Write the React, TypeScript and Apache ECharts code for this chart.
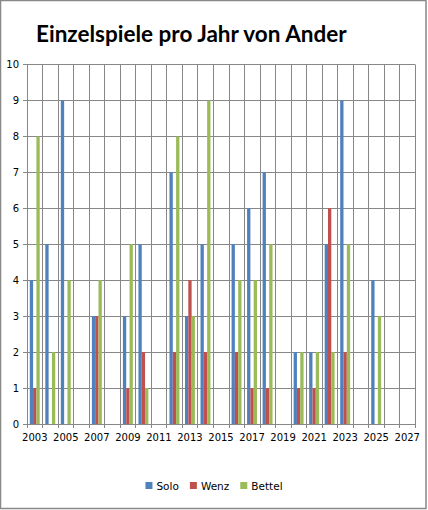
import React, { useEffect, useRef } from "react";
import * as echarts from "echarts";

const years = [
  "2003", "2004", "2005", "2006", "2007", "2008", "2009", "2010", "2011", "2012",
  "2013", "2014", "2015", "2016", "2017", "2018", "2019", "2020", "2021", "2022",
  "2023", "2024", "2025", "2026", "2027",
];
const solo = [4, 5, 9, 0, 3, 0, 3, 5, 0, 7, 3, 5, 0, 5, 6, 7, 0, 2, 2, 5, 9, 0, 4, 0, 0];
const wenz = [1, 0, 0, 0, 3, 0, 1, 2, 0, 2, 4, 2, 0, 2, 1, 1, 0, 1, 1, 6, 2, 0, 0, 0, 0];
const bettel = [8, 2, 4, 0, 4, 0, 5, 1, 0, 8, 3, 9, 0, 4, 4, 5, 0, 2, 2, 2, 5, 0, 3, 0, 0];
const seriesNames = ["Solo", "Wenz", "Bettel"];
const colors = ["#4F81BD", "#C0504D", "#9BBB59"];
const titleText = "Einzelspiele pro Jahr von Ander";

export default function App() {
  const ref = useRef<HTMLDivElement>(null);
  useEffect(() => {
    document.body.style.margin = "0";
    const chart = echarts.init(ref.current!, null, { renderer: "svg" });
    const font = "DejaVu Sans";
    const gridColor = "#878787";
    const data = [solo, wenz, bettel];
    chart.setOption({
      animation: false,
      backgroundColor: "#ffffff",
      title: {
        text: titleText,
        left: 31,
        top: 17,
        textStyle: { fontFamily: "Lato", fontWeight: "bold", fontSize: 22.5, color: "#000" },
      },
      legend: {
        data: seriesNames,
        bottom: 14,
        left: "center",
        itemWidth: 7,
        itemHeight: 7,
        itemGap: 11,
        icon: "rect",
        textStyle: { fontFamily: font, fontSize: 10.5, color: "#000", padding: [0, 0, 0, -1] },
      },
      grid: { left: 27, right: 13, top: 64.5, bottom: 86, containLabel: false },
      xAxis: {
        type: "category",
        data: years,
        boundaryGap: true,
        axisLine: { lineStyle: { color: gridColor, width: 1 } },
        axisTick: { show: true, interval: 0, length: 4, lineStyle: { color: gridColor } },
        axisLabel: { interval: 1, fontFamily: font, fontSize: 10, color: "#000", margin: 8 },
        splitLine: { show: true, interval: 0, lineStyle: { color: gridColor, width: 1 } },
      },
      yAxis: {
        type: "value",
        min: 0,
        max: 10,
        interval: 1,
        axisLine: { show: true, lineStyle: { color: gridColor, width: 1 } },
        axisTick: { show: true, length: 4, lineStyle: { color: gridColor } },
        axisLabel: { fontFamily: font, fontSize: 10, color: "#000", margin: 8 },
        splitLine: { show: true, lineStyle: { color: gridColor, width: 1 } },
      },
      series: seriesNames.map((name, i) => ({
        name,
        type: "bar",
        data: data[i],
        itemStyle: { color: colors[i] },
        barGap: "0%",
        barCategoryGap: "36%",
      })),
      graphic: [
        {
          type: "rect",
          shape: { x: 0.5, y: 0.5, width: 425.5, height: 508 },
          style: { fill: "none", stroke: "#888888", lineWidth: 1.5 },
          silent: true,
        },
      ],
    });
    return () => chart.dispose();
  }, []);
  return <div ref={ref} style={{ position: "absolute", left: 0, top: 0, width: 428, height: 510 }} />;
}
